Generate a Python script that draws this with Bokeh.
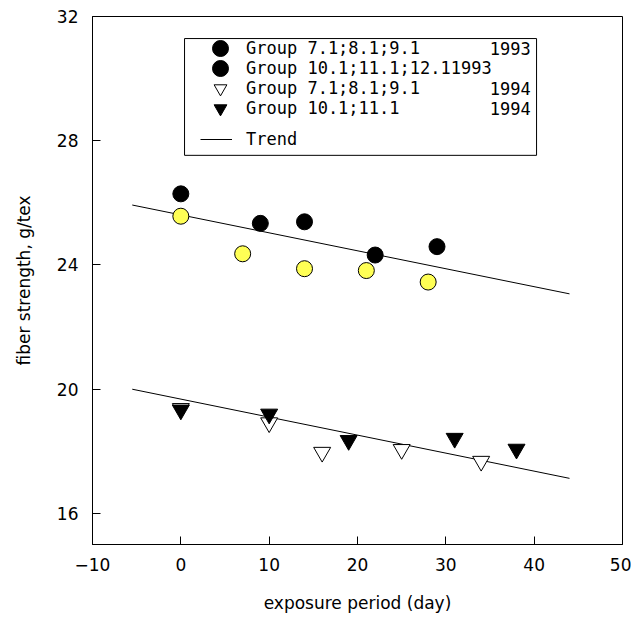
from bokeh.plotting import figure
from bokeh.models import Legend, LegendItem, BoxAnnotation, Label, Range1d, FixedTicker
from bokeh.embed import file_html
from bokeh.resources import INLINE

# ---- data ----
x_93_g7 = [0, 7, 14, 21, 28]            # Group 7.1;8.1;9.1 1993 (yellow)
y_93_g7 = [25.57, 24.36, 23.88, 23.82, 23.45]
x_93_g10 = [0, 9, 14, 22, 29]           # Group 10.1;11.1;12.1 1993 (black)
y_93_g10 = [26.29, 25.34, 25.39, 24.32, 24.59]
x_94_g7 = [0, 10, 16, 25, 34]           # Group 7.1;8.1;9.1 1994 (open triangles)
y_94_g7 = [19.38, 18.92, 17.97, 18.06, 17.68]
x_94_g10 = [0, 10, 19, 31, 38]          # Group 10.1;11.1 1994 (filled triangles)
y_94_g10 = [19.33, 19.2, 18.35, 18.42, 18.07]
trend_x = [-5.5, 44]
trend_1993 = [25.93, 23.07]
trend_1994 = [20.0, 17.13]
x_ticks = [-10, 0, 10, 20, 30, 40, 50]
y_ticks = [16, 20, 24, 28, 32]
legend_labels = ["Group 7.1;8.1;9.1", "Group 10.1;11.1;12.11993",
                 "Group 7.1;8.1;9.1", "Group 10.1;11.1", "Trend"]
legend_years = ["1993", "", "1994", "1994"]

FONT = "DejaVu Sans"
LFONT = "DejaVu Sans Mono"
FS = "17px"
LFS = "17px"

p = figure(width=631, height=621, x_range=Range1d(-10, 50), y_range=Range1d(15, 32),
           output_backend="svg", toolbar_location=None,
           min_border_left=92, min_border_right=9, min_border_top=16, min_border_bottom=77)

p.xgrid.visible = False
p.ygrid.visible = False
p.outline_line_color = "black"
p.outline_line_width = 1
p.background_fill_color = "white"
p.border_fill_color = "white"

for ax in (p.xaxis, p.yaxis):
    ax.axis_line_color = "black"
    ax.major_tick_line_color = "black"
    ax.major_tick_in = 8
    ax.major_tick_out = 0
    ax.minor_tick_line_color = None
    ax.major_label_text_font = FONT
    ax.major_label_text_font_size = FS
    ax.major_label_text_color = "black"
    ax.axis_label_text_font = FONT
    ax.axis_label_text_font_size = FS
    ax.axis_label_text_font_style = "normal"
    ax.axis_label_text_color = "black"

p.xaxis.ticker = FixedTicker(ticks=x_ticks)
p.yaxis.ticker = FixedTicker(ticks=y_ticks)
p.xaxis.major_label_overrides = {-10: "\u221210"}
p.xaxis.axis_label = "exposure period (day)"
p.yaxis.axis_label = "fiber strength, g/tex"
p.xaxis.major_label_standoff = 13
p.xaxis.axis_label_standoff = 19
p.yaxis.major_label_standoff = 14
p.yaxis.axis_label_standoff = 20

# trend lines
r_t93 = p.line(trend_x, trend_1993, line_color="black", line_width=1)
p.line(trend_x, trend_1994, line_color="black", line_width=1)

# data markers
r_y = p.scatter(x_93_g7, y_93_g7, marker="circle", size=16,
                fill_color="#ffff55", line_color="black", line_width=1)
r_b = p.scatter(x_93_g10, y_93_g10, marker="circle", size=16,
                fill_color="black", line_color="black")
r_o = p.scatter(x_94_g7, y_94_g7, marker="inverted_triangle", size=17,
                fill_color="white", line_color="black", line_width=1)
r_f = p.scatter(x_94_g10, y_94_g10, marker="inverted_triangle", size=17,
                fill_color="black", line_color="black")
# legend shows the first 1993 group with a black circle, as in the original
r_dummy = p.scatter([float("nan")], [float("nan")], marker="circle",
                    fill_color="black", line_color="black")

# legend box
box = BoxAnnotation(left=0.42, right=40.27, top=31.29, bottom=27.53,
                    fill_alpha=0, line_color="black", line_width=1, line_alpha=1)
p.add_layout(box)

# one single-row legend per entry (rows 20 px apart)
row_renderers = [r_dummy, r_b, r_o, r_f]
row_heights = [40, 40, 32, 32]          # legend glyph box (marker size = 0.4 * box)
row_centers = [496, 476, 456, 436]      # px above frame bottom
for lab, rend, h, c in zip(legend_labels[:4], row_renderers, row_heights, row_centers):
    leg = Legend(items=[LegendItem(label=lab, renderers=[rend])],
                 location=(108, c - h // 2), glyph_width=40, glyph_height=h, label_height=h,
                 spacing=0, padding=0, margin=0, label_standoff=6,
                 border_line_alpha=0, background_fill_alpha=0,
                 label_text_font=LFONT, label_text_font_size=LFS, label_text_color="black")
    p.add_layout(leg)

leg2 = Legend(items=[LegendItem(label=legend_labels[4], renderers=[r_t93])],
              location=(108, 395), glyph_width=32, glyph_height=20, label_height=20,
              spacing=0, padding=0, margin=0, label_standoff=14,
              border_line_alpha=0, background_fill_alpha=0,
              label_text_font=LFONT, label_text_font_size=LFS, label_text_color="black")
p.add_layout(leg2)

year_y = [30.97, 30.33, 29.68, 29.04]
for yr, yy in zip(legend_years, year_y):
    if yr:
        p.add_layout(Label(x=39.6, y=yy, text=yr, text_align="right", text_baseline="middle",
                           text_font=LFONT, text_font_size=LFS, text_color="black"))

open("out.html", "w").write(file_html(p, INLINE))
